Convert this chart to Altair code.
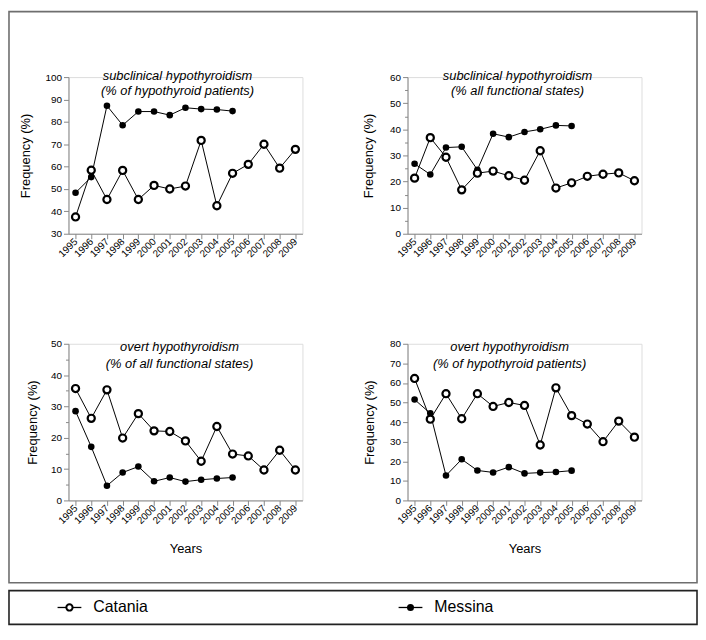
import altair as alt
import pandas as pd

years = list(range(1995, 2010))
messina_years = list(range(1995, 2006))
series = ["Catania", "Messina"]

# Panel A: subclinical hypothyroidism (% of hypothyroid patients)
a_catania = [37.5, 58.4, 45.3, 58.3, 45.3, 51.6, 50.0, 51.3, 71.7, 42.5, 57.0, 61.0, 70.0, 59.3, 67.7]
a_messina = [48.3, 55.3, 87.2, 78.5, 84.6, 84.6, 83.0, 86.3, 85.7, 85.5, 84.8]
# Panel B: subclinical hypothyroidism (% all functional states)
b_catania = [21.3, 36.8, 29.3, 16.8, 23.2, 24.0, 22.2, 20.5, 31.8, 17.5, 19.5, 22.0, 22.8, 23.3, 20.3]
b_messina = [26.8, 22.7, 33.0, 33.3, 24.5, 38.3, 37.0, 39.0, 40.0, 41.5, 41.3]
# Panel C: overt hypothyroidism (% of all functional states)
c_catania = [35.7, 26.2, 35.3, 19.9, 27.7, 22.2, 22.0, 19.0, 12.5, 23.6, 14.8, 14.2, 9.7, 16.0, 9.7]
c_messina = [28.5, 17.1, 4.7, 8.9, 10.8, 6.1, 7.3, 6.0, 6.6, 7.0, 7.3]
# Panel D: overt hypothyroidism (% of hypothyroid patients)
d_catania = [62.3, 41.5, 54.5, 41.7, 54.5, 48.0, 50.0, 48.5, 28.3, 57.5, 43.3, 39.0, 30.0, 40.5, 32.3]
d_messina = [51.5, 44.5, 12.7, 21.0, 15.3, 14.3, 17.0, 13.8, 14.2, 14.5, 15.2]

titles = {
    "A": ["subclinical hypothyroidism", "(% of hypothyroid patients)"],
    "B": ["subclinical hypothyroidism", "(% all functional states)"],
    "C": ["overt hypothyroidism", "(% of all functional states)"],
    "D": ["overt hypothyroidism", "(% of hypothyroid patients)"],
}

FONT = "Liberation Sans"
W, H = 236, 158


def frame(cat, mes):
    rows = []
    for y, v in zip(years, cat):
        rows.append({"year": y, "series": "Catania", "value": v})
    for y, v in zip(messina_years, mes):
        rows.append({"year": y, "series": "Messina", "value": v})
    return pd.DataFrame(rows)


def panel(df, title, ymin, ymax, minor, dx, toff, lh, ytpad, xtitle):
    vals = list(range(ymin, ymax + 1, 5 if minor else 10))
    yaxis = alt.Axis(
        values=vals,
        labelExpr="datum.value % 10 === 0 ? datum.label : ''",
        tickSize={"condition": {"test": "datum.value % 10 !== 0", "value": 3}, "value": 5},
        title="Frequency (%)",
        titleFontSize=13,
        titleFontWeight="normal",
        titlePadding=ytpad,
        grid=False,
    )
    xaxis = alt.Axis(
        labelAngle=-45,
        labelAlign="right",
        labelBaseline="middle",
        labelPadding=1,
        title=xtitle if xtitle else None,
        titleFontSize=13,
        titleFontWeight="normal",
        titlePadding=17,
        grid=False,
    )
    x = alt.X("year:O", scale=alt.Scale(type="point", padding=0.45), axis=xaxis)
    y = alt.Y("value:Q", scale=alt.Scale(domain=[ymin, ymax], nice=False, zero=False), axis=yaxis)
    base = alt.Chart(df)
    lines = base.mark_line(color="black", strokeWidth=1).encode(x=x, y=y, detail="series:N")
    pts_m = base.transform_filter(alt.datum.series == "Messina").mark_point(
        filled=True, color="black", size=44, opacity=1
    ).encode(x=x, y=y)
    pts_c = base.transform_filter(alt.datum.series == "Catania").mark_point(
        shape="circle", fill="white", stroke="black", strokeWidth=2.2, size=52, opacity=1, filled=False
    ).encode(x=x, y=y)
    return alt.layer(lines, pts_m, pts_c).properties(
        width=W,
        height=H,
        title=alt.TitleParams(
            text=title,
            fontSize=13,
            fontStyle="italic",
            fontWeight="normal",
            font=FONT,
            anchor="middle",
            frame="group",
            offset=toff,
            dx=dx,
            lineHeight=lh,
            color="black",
        ),
    )


pA = panel(frame(a_catania, a_messina), titles["A"], 30, 100, False, -8, -26, 15, 13, "")
pB = panel(frame(b_catania, b_messina), titles["B"], 0, 60, True, -7, -26, 15, 14, "")
pC = panel(frame(c_catania, c_messina), titles["C"], 0, 50, True, -6, -32, 17, 11, "Years")
pD = panel(frame(d_catania, d_messina), titles["D"], 0, 80, False, -15, -32, 17, 13, "Years")

# Legend row (also carries the outer frame of the figure)
leg_df = pd.DataFrame({"series": series})
lx = alt.X("series:N", scale=alt.Scale(type="point", domain=series, range=[1, 345], padding=0), axis=None)
LY = -3
one = pd.DataFrame({"k": [0]})
outer_box = alt.Chart(one).mark_rect(
    fill="transparent", stroke="#6e6e6e", strokeWidth=1.6
).encode(x=alt.value(-60), x2=alt.value(634), y=alt.value(-604), y2=alt.value(-28))
leg_box = alt.Chart(one).mark_rect(
    fill="transparent", stroke="#222", strokeWidth=1.6
).encode(x=alt.value(-60), x2=alt.value(634), y=alt.value(-20), y2=alt.value(14))
leg_line = alt.Chart(leg_df).mark_point(shape="stroke", size=576, stroke="black", strokeWidth=1.3, opacity=1).encode(
    x=lx, y=alt.value(LY))
leg_pt_c = alt.Chart(leg_df).transform_filter(alt.datum.series == "Catania").mark_point(
    shape="circle", fill="white", stroke="black", strokeWidth=2, size=40, opacity=1, filled=False
).encode(x=lx, y=alt.value(LY))
leg_pt_m = alt.Chart(leg_df).transform_filter(alt.datum.series == "Messina").mark_point(
    filled=True, color="black", size=50, opacity=1
).encode(x=lx, y=alt.value(LY))
leg_txt = alt.Chart(leg_df).mark_text(align="left", baseline="middle", dx=24, fontSize=16, font=FONT, color="black").encode(
    x=lx, y=alt.value(LY), text="series:N")
legend = alt.layer(outer_box, leg_box, leg_line, leg_pt_c, leg_pt_m, leg_txt).properties(
    width=W, height=14, view=alt.ViewBackground(stroke="transparent", strokeWidth=0)
)

chart = alt.concat(pA, pB, pC, pD, legend, columns=2, spacing={"row": 111, "column": 106}, bounds="flush").properties(
    padding=0
).configure_view(strokeWidth=0, stroke="transparent").configure_axis(
    domainColor="black",
    domainWidth=2.5,
    tickColor="black",
    tickWidth=2,
    labelColor="black",
    labelFont=FONT,
    labelFontSize=12,
    titleFont=FONT,
    titleColor="black",
).configure(background="white")

chart.save("out.html", embed_options={"renderer": "svg", "actions": False})
